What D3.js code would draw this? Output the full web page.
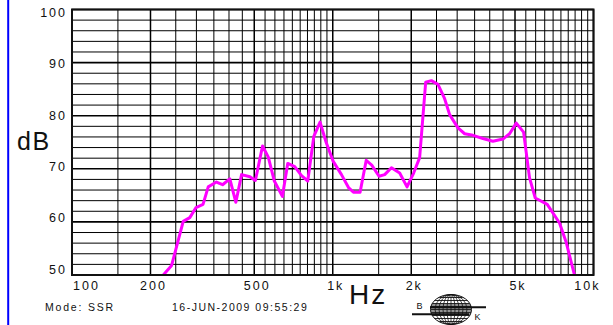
<!DOCTYPE html>
<html><head><meta charset="utf-8">
<script src="https://cdn.jsdelivr.net/npm/d3@7"></script>
<style>
html,body{margin:0;padding:0;background:#fff;}
svg{display:block;font-family:"Liberation Sans",Arial,sans-serif;}
</style></head>
<body>
<svg id="c" width="613" height="325"></svg>
<script>
// ---- data ----
const freqs = [224,241,267,283,299,318,333,358,378,403,425,447,481,505,538,566,597,641,672,715,759,802,846,894,943,1004,1080,1152,1200,1273,1344,1411,1505,1582,1679,1806,1927,2043,2154,2272,2389,2532,2686,2807,3021,3205,3447,3766,4114,4494,4767,5056,5393,5685,5979,6646,7408,7862,8454];
const levels = [50.0,51.8,60.1,60.8,62.7,63.3,66.6,67.5,67.0,68.1,63.7,68.9,68.5,67.8,74.3,72.2,67.7,64.8,71.0,70.4,68.7,67.7,76.1,78.8,75.0,71.4,68.9,66.4,65.6,65.6,71.6,70.7,68.6,68.9,70.2,69.2,66.6,69.2,72.1,86.3,86.6,85.9,83.2,80.2,77.7,76.6,76.3,75.7,75.2,75.6,76.6,78.6,76.9,68.3,64.5,63.3,59.8,56.1,50.0];
const xTickValues = [100,200,500,1000,2000,5000,10000];
const xTickLabels = ["100","200","500","1k","2k","5k","10k"];
const yTickValues = [100,90,80,70,60,50];
const yTickLabels = ["100","90","80","70","60","50"];
const yLabel = "dB";
const xLabel = "Hz";
const modeText = "Mode: SSR";
const dateText = "16-JUN-2009 09:55:29";

// ---- chart ----
const svg = d3.select("#c");
const L=72, R=593.5, T=9.5, B=275;
const x = d3.scaleLog().domain([100,10000]).range([L,R]);
const y = d3.scaleLinear().domain([50,100]).range([B,T]);
const yLab = d3.scaleLinear().domain([50,100]).range([269.3,12.3]);

// blue left rule
svg.append("line").attr("x1",8.2).attr("x2",8.2).attr("y1",0).attr("y2",325)
  .attr("stroke","#0000ff").attr("stroke-width",2);

// grid
const vGrid = d3.range(100,1000,50).concat(d3.range(1000,10001,500));
const hGrid = d3.range(50,101,2);
const g = svg.append("g");
g.selectAll(".v").data(vGrid).join("line")
  .attr("x1",d=>x(d)).attr("x2",d=>x(d)).attr("y1",T).attr("y2",B)
  .attr("stroke","#000")
  .attr("stroke-width",d=>xTickValues.includes(d)?1.5:1);
g.selectAll(".h").data(hGrid).join("line")
  .attr("x1",L).attr("x2",R).attr("y1",d=>y(d)).attr("y2",d=>y(d))
  .attr("stroke","#000")
  .attr("stroke-width",d=>d%10===0?1.6:1);

// curve
svg.append("clipPath").attr("id","pc").append("rect")
  .attr("x",L).attr("y",T).attr("width",R-L).attr("height",B-T);
const line = d3.line().x(d=>x(d[0])).y(d=>y(d[1]));
svg.append("path").datum(freqs.map((f,i)=>[f,levels[i]]))
  .attr("clip-path","url(#pc)")
  .attr("d",line).attr("fill","none").attr("stroke","#ff00ff")
  .attr("stroke-width",3).attr("stroke-linejoin","round").attr("stroke-linecap","round");

// frame
svg.append("rect").attr("x",L).attr("y",T).attr("width",R-L).attr("height",B-T)
  .attr("fill","none").attr("stroke","#111").attr("stroke-width",2);

// x tick labels
svg.selectAll(".xt").data(xTickValues).join("text")
  .attr("x",(d,i)=> i===0 ? x(d)+1 : (i===xTickValues.length-1 ? x(d)+7 : x(d)+3))
  .attr("y",290)
  .attr("text-anchor",(d,i)=> i===0 ? "start" : (i===xTickValues.length-1 ? "end" : "middle"))
  .attr("font-size",12.5).attr("letter-spacing",2).attr("fill","#111")
  .text((d,i)=>xTickLabels[i]);

// y tick labels
svg.selectAll(".yt").data(yTickValues).join("text")
  .attr("x",67).attr("y",d=>yLab(d)+4.5)
  .attr("text-anchor","end")
  .attr("font-size",12.5).attr("letter-spacing",2).attr("fill","#111")
  .text((d,i)=>yTickLabels[i]);

// axis titles
svg.append("text").attr("x",17).attr("y",150).attr("font-size",25)
  .attr("letter-spacing",1.5).attr("fill","#111").text(yLabel);
svg.append("text").attr("x",349).attr("y",303.5).attr("font-size",28)
  .attr("letter-spacing",2).attr("fill","#111").text(xLabel);

// footer
svg.append("text").attr("x",45).attr("y",311).attr("font-size",10.5)
  .attr("letter-spacing",1.8).attr("fill","#111").text(modeText);
svg.append("text").attr("x",172).attr("y",311).attr("font-size",10.5)
  .attr("letter-spacing",1.5).attr("fill","#111").text(dateText);

// logo
const lg = svg.append("g").attr("stroke","#111").attr("fill","none");
const cx=451, cy=309.5, rx=20.5, ry=15;
svg.append("clipPath").attr("id","gc").append("ellipse")
  .attr("cx",cx).attr("cy",cy).attr("rx",rx).attr("ry",ry);
lg.append("ellipse").attr("cx",cx).attr("cy",cy).attr("rx",rx).attr("ry",ry).attr("stroke-width",1);
[16,12,8,4].forEach(r=>lg.append("ellipse").attr("cx",cx).attr("cy",cy).attr("rx",r).attr("ry",ry).attr("stroke-width",0.8));
lg.append("line").attr("x1",cx).attr("x2",cx).attr("y1",cy-ry).attr("y2",cy+ry).attr("stroke-width",0.8);
const lat = lg.append("g").attr("clip-path","url(#gc)");
[-12,-9,-6,-4.5,-3,-1.5,0,1.5,3,4.5,6,9,12].forEach(o=>lat.append("line").attr("x1",cx-rx).attr("x2",cx+rx)
  .attr("y1",cy+o).attr("y2",cy+o).attr("stroke-width",0.9));
lg.append("line").attr("x1",412).attr("x2",469).attr("y1",314.2).attr("y2",314.2).attr("stroke-width",2);
lg.append("line").attr("x1",430).attr("x2",486).attr("y1",307.3).attr("y2",307.3).attr("stroke-width",2);
svg.append("text").attr("x",416.5).attr("y",308.5).attr("font-size",9).attr("fill","#111").text("B");
svg.append("text").attr("x",474.5).attr("y",319.5).attr("font-size",9).attr("fill","#111").text("K");
</script>
</body></html>
